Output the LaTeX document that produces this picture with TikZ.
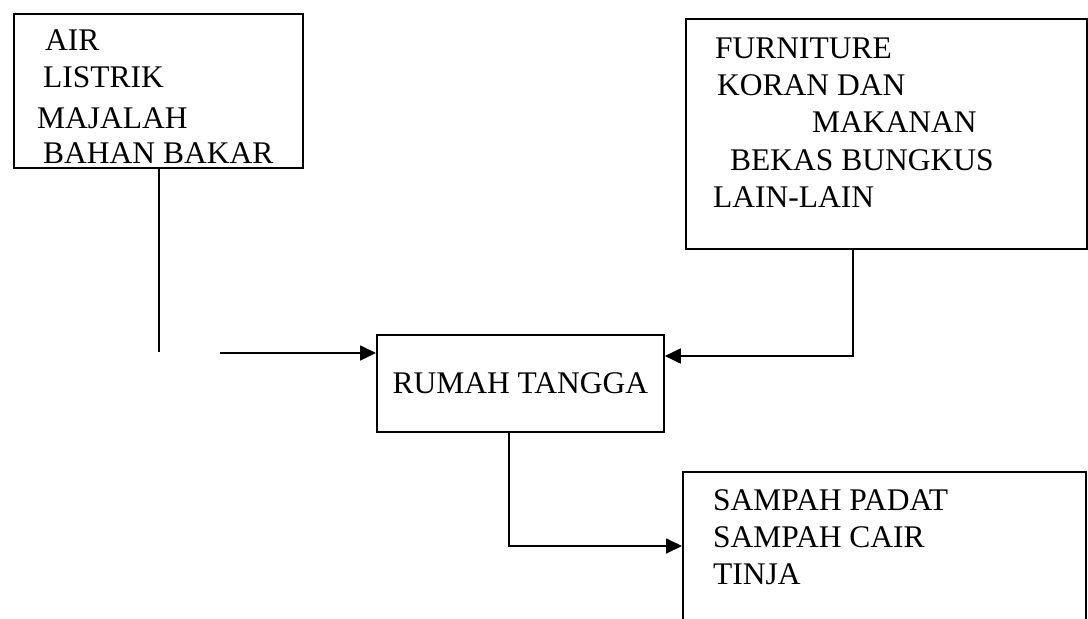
\documentclass[tikz,border=0pt]{standalone}
\usepackage{fontspec}
\setmainfont{Liberation Serif}
\usetikzlibrary{arrows.meta}
\begin{document}
\begin{tikzpicture}[x=1pt,y=-1pt,
  boxstyle/.style={draw,line width=1.8pt,inner sep=0pt,anchor=north west},
  txt/.style={anchor=base west,inner sep=0pt,font=\fontsize{31.5}{37}\selectfont},
  conn/.style={line width=1.8pt},
  arr/.style={conn,-{Triangle[length=16pt,width=15pt]}}]
\clip (0,0) rectangle (1088,619);
% boxes
\node[boxstyle,minimum width=289pt,minimum height=154pt] (bsrc) at (13,13) {};
\node[boxstyle,minimum width=401pt,minimum height=230pt] (fbox) at (685,18) {};
\node[boxstyle,minimum width=287pt,minimum height=97pt,font=\fontsize{31.5}{37}\selectfont] (rumah) at (376,334) {RUMAH TANGGA};
\node[boxstyle,minimum width=403pt,minimum height=200pt] (sampah) at (682,471) {};
% texts of the source box
\node[txt] (tair) at (45,50) {AIR};
\node[txt] (tlis) at (43,87) {LISTRIK};
\node[txt] (tmaj) at (37,128) {MAJALAH};
\node[txt] (tbah) at (43,163) {BAHAN BAKAR};
% texts of the furniture box
\node[txt] (tfur) at (715,58) {FURNITURE};
\node[txt] (tkor) at (717,95) {KORAN DAN};
\node[txt] (tmak) at (812,132) {MAKANAN};
\node[txt] (tbek) at (730,170) {BEKAS BUNGKUS};
\node[txt] (tlai) at (713,207) {LAIN-LAIN};
% texts of the waste box
\node[txt] (tsp) at (713,510) {SAMPAH PADAT};
\node[txt] (tsc) at (713,547) {SAMPAH CAIR};
\node[txt] (ttin) at (713,584) {TINJA};
% connectors
\coordinate (v1end) at (159,352);
\draw[conn] (bsrc.south -| v1end) -- (v1end);
\coordinate (h1start) at (220,353);
\draw[arr] (h1start) -- (h1start -| rumah.west);
\coordinate (k2) at (853,356);
\draw[arr] (fbox.south -| k2) -- (k2) -- (k2 -| rumah.east);
\coordinate (k3) at (509,546);
\draw[arr] (rumah.south -| k3) -- (k3) -- (k3 -| sampah.west);
\end{tikzpicture}
\end{document}
